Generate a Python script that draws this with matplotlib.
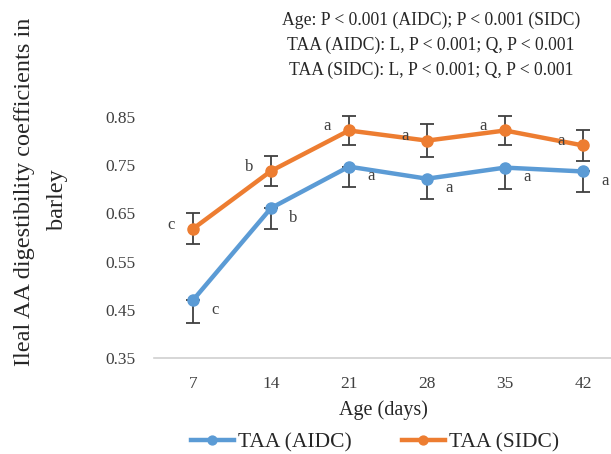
import numpy as np
import matplotlib
matplotlib.use("Agg")
import matplotlib.pyplot as plt

plt.rcParams['font.family'] = ['Liberation Serif', 'DejaVu Serif']

# data
ages = ['7', '14', '21', '28', '35', '42']
aidc = [0.470, 0.661, 0.747, 0.722, 0.745, 0.737]
aidc_err = [0.047, 0.044, 0.043, 0.043, 0.044, 0.043]
sidc = [0.618, 0.738, 0.822, 0.801, 0.822, 0.791]
sidc_err = [0.032, 0.032, 0.031, 0.034, 0.031, 0.032]
aidc_letters = ['c', 'b', 'a', 'a', 'a', 'a']
sidc_letters = ['c', 'b', 'a', 'a', 'a', 'a']

blue = '#5B9BD5'
orange = '#ED7D31'
errc = '#404040'

fig = plt.figure(figsize=(6.11, 4.54), dpi=100)
ax = fig.add_axes([154 / 611, 1 - 358 / 454, 468 / 611, 0.52 * 482 / 454])

x = np.arange(len(ages))

ax.errorbar(x, aidc, yerr=[aidc_err, np.zeros(len(aidc))], fmt='none',
            ecolor=errc, elinewidth=1.3, capsize=5, capthick=1.3, zorder=2)
ax.errorbar(x, sidc, yerr=sidc_err, fmt='none',
            ecolor=errc, elinewidth=1.3, capsize=5, capthick=1.3, zorder=2)
ax.plot(x, aidc, color=blue, lw=3.2, marker='o', ms=8, label='TAA (AIDC)', zorder=3)
ax.plot(x, sidc, color=orange, lw=3.2, marker='o', ms=8, label='TAA (SIDC)', zorder=3)

# significance letters
for i in range(len(ages)):
    ax.annotate(aidc_letters[i], (x[i], aidc[i]), xytext=(13, -7),
                textcoords='offset points', ha='left', va='center',
                fontsize=12, color='#404040')
    ax.annotate(sidc_letters[i], (x[i], sidc[i]), xytext=(-13, 3),
                textcoords='offset points', ha='right', va='center',
                fontsize=12, color='#404040')

ax.set_xlim(-0.5, len(ages) - 0.5)
ax.set_ylim(0.35, 0.87)
ax.set_yticks([0.35, 0.45, 0.55, 0.65, 0.75, 0.85])
ax.set_yticklabels(['0.35', '0.45', '0.55', '0.65', '0.75', '0.85'])
ax.set_xticks(x)
ax.set_xticklabels(ages)
ax.tick_params(axis='both', length=0, labelsize=12.5, colors='#404040')
ax.tick_params(axis='x', pad=13)
ax.tick_params(axis='y', pad=13)
for s in ['top', 'right', 'left']:
    ax.spines[s].set_visible(False)
ax.spines['bottom'].set_color('#d0d0d0')
ax.spines['bottom'].set_linewidth(1.2)

fig.text(383 / 611, 1 - 410 / 454, 'Age (days)', ha='center', va='center',
         fontsize=14.5, color='#262626')
fig.text(25 / 611, 1 - 192 / 454, 'Ileal AA digestibility coefficients in',
         rotation=90, ha='center', va='center', fontsize=17.5, color='#262626')
fig.text(58 / 611, 1 - 200 / 454, 'barley',
         rotation=90, ha='center', va='center', fontsize=17.5, color='#262626')

notes = ['Age: P < 0.001 (AIDC); P < 0.001 (SIDC)',
         'TAA (AIDC): L, P < 0.001; Q, P < 0.001',
         'TAA (SIDC): L, P < 0.001; Q, P < 0.001']
for k, line in enumerate(notes):
    fig.text(431 / 611, 1 - (20 + 25 * k) / 454, line, ha='center', va='center',
             fontsize=12.7, color='#262626')

fig.legend(loc='center', bbox_to_anchor=(375 / 611, 1 - 442 / 454), ncol=2,
           frameon=False, fontsize=15.5, handlelength=2.0, handletextpad=0.2,
           columnspacing=2.3, labelcolor='#262626', markerscale=0.8)

fig.savefig('out.png', dpi=100)
